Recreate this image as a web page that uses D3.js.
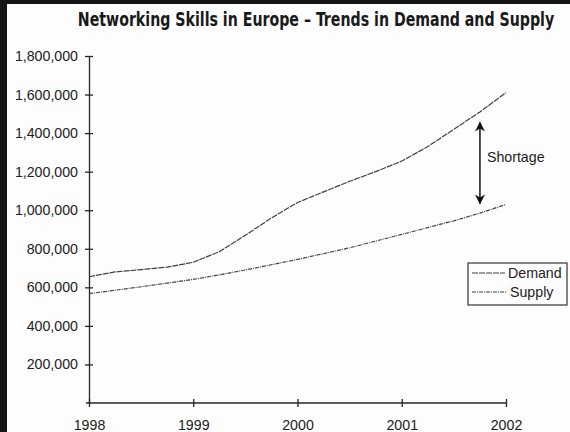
<!DOCTYPE html>
<html>
<head>
<meta charset="utf-8">
<script src="https://cdn.jsdelivr.net/npm/d3@7"></script>
<style>
  html, body { margin: 0; padding: 0; background: #111; }
  svg { display: block; }
</style>
</head>
<body>
<span></span>
<script>
// networking skills chart - demand vs supply, scanned look

const years = [1998, 1998.25, 1998.5, 1998.75, 1999, 1999.25, 1999.5, 1999.75,
               2000, 2000.25, 2000.5, 2000.75, 2001, 2001.25, 2001.5, 2001.75, 2002];
const demand = [655000, 680000, 692000, 705000, 730000, 785000, 870000, 960000,
                1040000, 1095000, 1150000, 1200000, 1255000, 1330000, 1420000, 1510000, 1610000];
const supply = [567000, 585000, 603000, 622000, 641000, 665000, 690000, 717000,
                745000, 775000, 805000, 840000, 875000, 910000, 945000, 985000, 1030000];
const xTicks = [1998, 1999, 2000, 2001, 2002];
const yTicks = [200000, 400000, 600000, 800000, 1000000, 1200000, 1400000, 1600000, 1800000];
const legendNames = ["Demand", "Supply"];
const shortage = {year: 2001.75, top: 1455000, bottom: 1035000, label: "Shortage"};

var width = 570, height = 432;
var margin = {top: 56, right: 64, bottom: 29, left: 89};

const svg = d3.select("span")
    .append("svg")
    .attr("width", width)
    .attr("height", height);

// scanned page: black frame on the left/top, white paper
svg.append("rect").attr("width", width).attr("height", height).attr("fill", "#151515");
svg.append("rect").attr("x", 7).attr("y", 4).attr("width", width - 7).attr("height", height - 4).attr("fill", "#fdfdfd");

const xScale = d3.scaleLinear()
    .domain([1998, 2002])
    .range([margin.left, width - margin.right]);
const yScale = d3.scaleLinear()
    .domain([0, 1800000])
    .range([height - margin.bottom, margin.top]);

const ink = "#262626";
const font = "Arial, 'Liberation Sans', sans-serif";
const fs = 14.2;

// title - condensed bold, squeezed horizontally
svg.append("text")
    .attr("transform", "translate(316,26) scale(0.83,1)")
    .attr("text-anchor", "middle")
    .attr("font-family", "'DejaVu Sans Condensed', 'DejaVu Sans', sans-serif")
    .attr("font-weight", "bold")
    .attr("font-size", 19)
    .attr("fill", "#1a1a1a")
    .text("Networking Skills in Europe \u2013 Trends in Demand and Supply");

// y axis
const yAxis = svg.append("g")
    .attr("transform", `translate(${margin.left},0)`)
    .call(d3.axisLeft(yScale).tickValues(yTicks).tickSize(0).tickPadding(11)
        .tickFormat(d3.format(",")));
yAxis.select(".domain").attr("stroke", ink).attr("stroke-width", 1.3);
yAxis.selectAll("text")
    .attr("font-family", font)
    .attr("font-size", fs)
    .attr("fill", "#222");
yAxis.selectAll(".tick").append("line")
    .attr("x1", -4).attr("x2", 4)
    .attr("stroke", ink).attr("stroke-width", 1.3);

// x axis
const xAxis = svg.append("g")
    .attr("transform", `translate(0,${height - margin.bottom})`)
    .call(d3.axisBottom(xScale).tickValues(xTicks).tickSize(0).tickPadding(17)
        .tickFormat(d3.format("d")));
xAxis.select(".domain").attr("stroke", ink).attr("stroke-width", 1.3)
    .attr("d", `M${margin.left - 3},0H${width - margin.right}`);
xAxis.selectAll("text")
    .attr("font-family", font)
    .attr("font-size", fs)
    .attr("fill", "#222");
xAxis.selectAll(".tick").append("line")
    .attr("y1", -4).attr("y2", 4)
    .attr("stroke", ink).attr("stroke-width", 1.3);

// lines
var line = d3.line()
    .x(d => xScale(d[0]))
    .y(d => yScale(d[1]));

svg.append("path")
    .datum(years.map((y, i) => [y, demand[i]]))
    .attr("d", line)
    .attr("fill", "none")
    .attr("stroke", "#404040")
    .attr("stroke-width", 1.2)
    .attr("stroke-dasharray", "6,1");

svg.append("path")
    .datum(years.map((y, i) => [y, supply[i]]))
    .attr("d", line)
    .attr("fill", "none")
    .attr("stroke", "#404040")
    .attr("stroke-width", 1.2)
    .attr("stroke-dasharray", "4,1,1,1");

// shortage arrow
svg.append("defs").selectAll("marker")
    .data(["arrowHead"])
    .enter().append("marker")
    .attr("id", d => d)
    .attr("viewBox", "0 0 10 10")
    .attr("refX", 9).attr("refY", 5)
    .attr("markerWidth", 11).attr("markerHeight", 10)
    .attr("markerUnits", "userSpaceOnUse")
    .attr("orient", "auto-start-reverse")
    .append("path")
    .attr("d", "M0,0L10,5L0,10L3,5Z")
    .attr("fill", "#111");

svg.append("line")
    .attr("x1", xScale(shortage.year)).attr("x2", xScale(shortage.year))
    .attr("y1", yScale(shortage.top)).attr("y2", yScale(shortage.bottom))
    .attr("stroke", "#111")
    .attr("stroke-width", 1.5)
    .attr("marker-start", "url(#arrowHead)")
    .attr("marker-end", "url(#arrowHead)");

svg.append("text")
    .attr("x", xScale(shortage.year) + 7)
    .attr("y", yScale((shortage.top + shortage.bottom) / 2) - 1)
    .attr("font-family", font)
    .attr("font-size", fs)
    .attr("fill", "#222")
    .text(shortage.label);

// legend
const legend = svg.append("g").attr("transform", "translate(468,263)");
legend.append("rect")
    .attr("width", 99).attr("height", 42)
    .attr("fill", "none")
    .attr("stroke", "#333")
    .attr("stroke-width", 1.2);
legend.selectAll(".item")
    .data(legendNames)
    .enter().append("g")
    .each(function(d, i) {
        const g = d3.select(this).attr("transform", `translate(0,${10 + i * 19})`);
        g.append("line")
            .attr("x1", 4).attr("x2", i == 0 ? 37 : 39)
            .attr("stroke", "#404040").attr("stroke-width", 1.2)
            .attr("stroke-dasharray", i == 0 ? "6,1" : "4,1,1,1");
        g.append("text")
            .attr("x", i == 0 ? 40 : 42)
            .attr("y", 5)
            .attr("font-family", font)
            .attr("font-size", fs)
            .attr("fill", "#222")
            .text(d);
    });
</script>
</body>
</html>
